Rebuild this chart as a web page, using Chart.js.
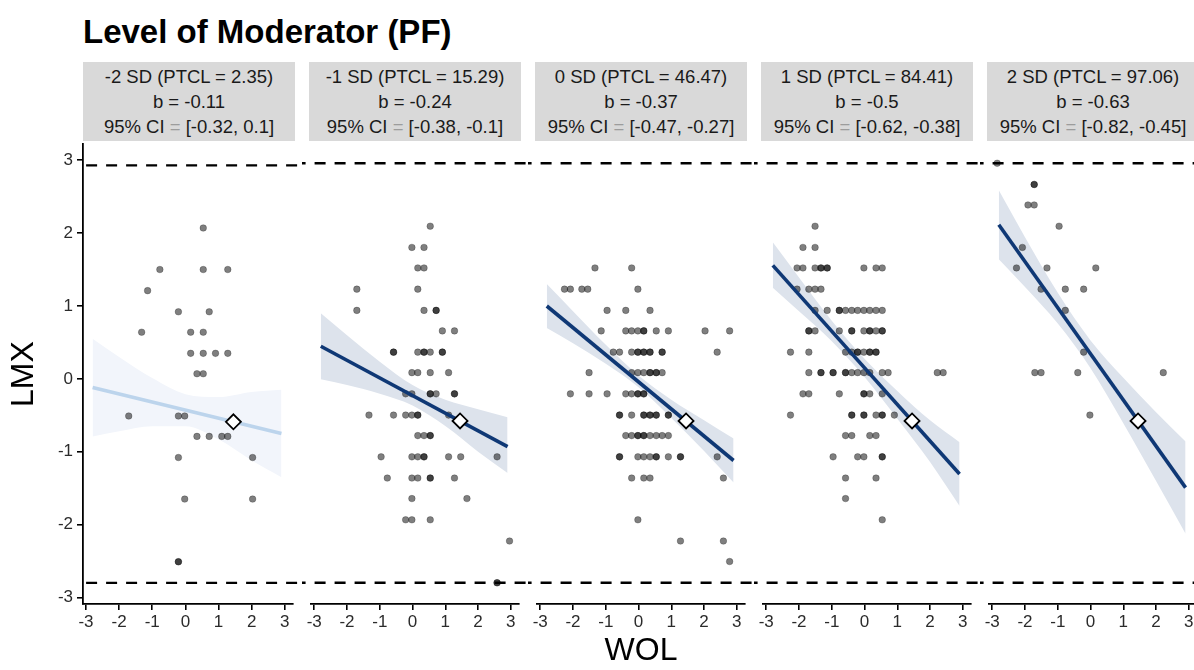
<!DOCTYPE html>
<html>
<head>
<meta charset="utf-8">
<script src="https://cdn.jsdelivr.net/npm/chart.js@4.4.0/dist/chart.umd.min.js"></script>
<style>
    body { margin: 0; background: #fff; overflow: hidden; }
    #wrap { position: relative; width: 1194px; height: 670px; overflow: hidden; font-family: 'Liberation Sans', Arial, sans-serif; }
    #title { position: absolute; left: 83px; top: 15px; font-size: 33px; line-height: 33px; font-weight: bold; color: #000; white-space: nowrap; }
    .strip { position: absolute; top: 62px; width: 212px; height: 79px; background: #d9d9d9; color: #1a1a1a; font-size: 18.5px; line-height: 25px; text-align: center; display: flex; flex-direction: column; justify-content: center; white-space: nowrap; }
    .strip .eq { color: #9c9c9c; }
    canvas { position: absolute; top: 130px; }
</style>
</head>
<body>
<div id="wrap">
    <div id="title">Level of Moderator (PF)</div>
</div>
<script>
// tick labels
const xTicks = [-3, -2, -1, 0, 1, 2, 3];
const yTicks = [-3, -2, -1, 0, 1, 2, 3];

// facet strips: moderator level, slope, confidence interval
const levelLabels = ["-2 SD (PTCL = 2.35)", "-1 SD (PTCL = 15.29)", "0 SD (PTCL = 46.47)", "1 SD (PTCL = 84.41)", "2 SD (PTCL = 97.06)"];
const slopeLabels = ["b = -0.11", "b = -0.24", "b = -0.37", "b = -0.5", "b = -0.63"];
const ciLabels = ["[-0.32, 0.1]", "[-0.38, -0.1]", "[-0.47, -0.27]", "[-0.62, -0.38]", "[-0.82, -0.45]"];

// dashed reference lines (min / max LMX) and the crossing point
const hLines = [2.93, -2.80];
const crossPoint = [1.45, -0.59];

// fitted lines (WOL range -> LMX)
const fitX = [-2.8, 2.9];
const fit1 = [-0.12, -0.75];
const fit2 = [0.43, -0.94];
const fit3 = [0.98, -1.13];
const fit4 = [1.535, -1.315];
const fit5 = [2.09, -1.50];

// confidence bands
const bandX = [-2.8, -2, -1, 0, 1, 2, 2.9];
const upper1 = [0.55, 0.30, 0.01, -0.21, -0.25, -0.18, -0.15];
const lower1 = [-0.79, -0.72, -0.65, -0.65, -0.83, -1.12, -1.35];
const upper2 = [0.88, 0.58, 0.22, -0.10, -0.30, -0.43, -0.54];
const lower2 = [-0.02, -0.10, -0.22, -0.38, -0.66, -1.01, -1.30];
const upper3 = [1.28, 0.91, 0.45, 0.03, -0.30, -0.58, -0.83];
const lower3 = [0.68, 0.47, 0.19, -0.13, -0.55, -1.00, -1.43];
const upper4 = [1.85, 1.37, 0.78, 0.26, -0.18, -0.58, -0.88];
const lower4 = [1.23, 0.91, 0.50, 0.01, -0.56, -1.15, -1.75];
const upper5 = [2.56, 1.92, 1.16, 0.51, 0.00, -0.47, -0.87];
const lower5 = [1.62, 1.24, 0.74, 0.13, -0.62, -1.41, -2.13];

// observations [WOL, LMX]
const pts1 = [[0.54,2.07],[-0.77,1.50],[0.54,1.50],[1.28,1.50],[-1.14,1.21],[-0.21,0.92],[0.72,0.92],[-1.32,0.64],[0.16,0.64],[0.54,0.64],
    [0.16,0.35],[0.54,0.35],[0.91,0.35],[1.28,0.35],[0.35,0.07],[0.54,0.07],[-1.71,-0.51],[-0.21,-0.51],[-0.02,-0.51],[0.35,-0.79],
    [0.72,-0.79],[1.10,-0.79],[1.28,-0.79],[-0.21,-1.08],[2.03,-1.08],[-0.02,-1.65],[2.03,-1.65],[-0.21,-2.51],[-0.21,-2.51]];
const pts2 = [[0.54,2.07],[-0.02,1.78],[0.35,1.78],[0.16,1.50],[0.35,1.50],[-1.70,1.21],[0.16,1.21],[-1.70,0.92],[0.35,0.92],[0.72,0.92],[0.72,0.92],
    [0.91,0.64],[1.28,0.64],[-0.58,0.35],[-0.58,0.35],[0.16,0.35],[0.35,0.35],[0.35,0.35],[0.54,0.35],[0.91,0.35],[0.91,0.35],
    [-0.02,0.07],[0.16,0.07],[0.54,0.07],[1.10,0.07],[-0.21,-0.22],[-0.02,-0.22],[0.54,-0.22],[0.54,-0.22],[0.72,-0.22],[1.28,-0.22],[1.28,-0.22],
    [-1.33,-0.51],[-0.58,-0.51],[-0.21,-0.51],[-0.02,-0.51],[0.16,-0.51],[0.16,-0.51],[1.10,-0.51],[0.16,-0.79],[0.35,-0.79],[0.54,-0.79],[0.54,-0.79],
    [-0.96,-1.08],[-0.02,-1.08],[0.16,-1.08],[0.35,-1.08],[0.35,-1.08],[1.10,-1.08],[1.47,-1.08],[2.58,-1.08],
    [-0.77,-1.37],[-0.02,-1.37],[0.16,-1.37],[0.54,-1.37],[0.54,-1.37],[1.28,-1.37],[-0.02,-1.65],[1.66,-1.65],
    [-0.21,-1.94],[-0.02,-1.94],[0.54,-1.94],[2.96,-2.23],[2.58,-2.80],[2.58,-2.80]];
const pts3 = [[-1.33,1.50],[-0.21,1.50],[-2.26,1.21],[-2.08,1.21],[-1.73,1.21],[-1.55,1.21],[-0.02,1.21],[-0.96,0.92],[-0.39,0.92],[0.35,0.92],
    [-1.14,0.64],[-0.39,0.64],[-0.21,0.64],[-0.02,0.64],[0.16,0.64],[0.16,0.64],[0.54,0.64],[0.91,0.64],[2.03,0.64],[2.78,0.64],
    [-0.77,0.35],[-0.58,0.35],[-0.21,0.35],[-0.02,0.35],[-0.02,0.35],[0.16,0.35],[0.16,0.35],[0.35,0.35],[0.35,0.35],[0.72,0.35],[0.72,0.35],[2.40,0.35],
    [-1.51,0.07],[-0.21,0.07],[-0.02,0.07],[0.16,0.07],[0.35,0.07],[0.35,0.07],[0.54,0.07],[0.54,0.07],[0.72,0.07],
    [-2.08,-0.22],[-1.51,-0.22],[-0.96,-0.22],[-0.39,-0.22],[-0.21,-0.22],[-0.02,-0.22],[-0.02,-0.22],[0.16,-0.22],[0.16,-0.22],
    [-0.58,-0.51],[-0.58,-0.51],[-0.21,-0.51],[0.16,-0.51],[0.16,-0.51],[0.35,-0.51],[0.35,-0.51],[0.54,-0.51],[0.54,-0.51],[0.91,-0.51],[0.91,-0.51],
    [-0.39,-0.79],[-0.21,-0.79],[-0.02,-0.79],[-0.02,-0.79],[0.16,-0.79],[0.16,-0.79],[0.35,-0.79],[0.54,-0.79],[0.72,-0.79],[0.91,-0.79],
    [-0.58,-1.08],[-0.58,-1.08],[-0.02,-1.08],[0.16,-1.08],[0.35,-1.08],[0.54,-1.08],[0.54,-1.08],[0.91,-1.08],[1.28,-1.08],[1.28,-1.08],[2.40,-1.08],
    [-0.21,-1.37],[0.16,-1.37],[0.35,-1.37],[2.59,-1.37],[-0.02,-1.94],[1.28,-2.23],[2.59,-2.23],[2.78,-2.51]];
const pts4 = [[-1.51,2.07],[-1.88,1.78],[-1.51,1.78],
    [-2.06,1.50],[-1.88,1.50],[-1.51,1.50],[-1.33,1.50],[-1.33,1.50],[-1.14,1.50],[-1.14,1.50],[-0.02,1.50],[0.35,1.50],[0.54,1.50],
    [-2.06,1.21],[-1.70,1.21],[-1.51,1.21],[-1.33,1.21],
    [-1.51,0.92],[-1.14,0.92],[-0.77,0.92],[-0.77,0.92],[-0.58,0.92],[-0.39,0.92],[-0.21,0.92],[-0.02,0.92],[0.16,0.92],[0.35,0.92],[0.54,0.92],
    [-1.70,0.64],[-1.70,0.64],[-1.51,0.64],[-0.77,0.64],[-0.39,0.64],[-0.39,0.64],[-0.02,0.64],[0.16,0.64],[0.16,0.64],[0.35,0.64],[0.54,0.64],[0.54,0.64],
    [-2.26,0.35],[-1.70,0.35],[-0.58,0.35],[-0.39,0.35],[-0.21,0.35],[-0.21,0.35],[-0.02,0.35],[0.16,0.35],[0.16,0.35],[0.35,0.35],[0.35,0.35],
    [-1.70,0.07],[-1.33,0.07],[-1.33,0.07],[-0.96,0.07],[-0.96,0.07],[-0.58,0.07],[-0.58,0.07],[-0.39,0.07],[-0.21,0.07],[-0.02,0.07],[0.16,0.07],[0.54,0.07],[0.72,0.07],[2.22,0.07],[2.40,0.07],
    [-1.88,-0.22],[-1.70,-0.22],[-0.77,-0.22],[-0.02,-0.22],[-0.02,-0.22],[0.16,-0.22],[0.54,-0.22],
    [-2.26,-0.51],[-0.39,-0.51],[-0.39,-0.51],[-0.02,-0.51],[-0.02,-0.51],[0.35,-0.51],[0.54,-0.51],[0.54,-0.51],[0.91,-0.51],
    [-0.58,-0.79],[-0.39,-0.79],[0.16,-0.79],[0.35,-0.79],[-0.96,-1.08],[-0.21,-1.08],[-0.02,-1.08],[0.54,-1.08],[0.54,-1.08],
    [-0.58,-1.37],[0.35,-1.37],[-0.58,-1.65],[0.54,-1.94]];
const pts5 = [[-2.85,2.93],[-1.72,2.64],[-1.72,2.64],[-1.91,2.36],[-1.72,2.36],[-0.96,2.07],[-2.08,1.78],[-2.26,1.50],[-1.33,1.50],[0.16,1.50],
    [-1.51,1.21],[-0.77,1.21],[-0.21,1.21],[-0.77,0.92],[-0.21,0.35],[-1.70,0.07],[-1.51,0.07],[-0.39,0.07],[2.22,0.07],[-0.02,-0.51]];

const panelPts = [pts1, pts2, pts3, pts4, pts5];
const panelFit = [fit1, fit2, fit3, fit4, fit5];
const panelUpper = [upper1, upper2, upper3, upper4, upper5];
const panelLower = [lower1, lower2, lower3, lower4, lower5];

const fontFamily = "'Liberation Sans', Arial, sans-serif";
const lineColors = ['#bcd4ec', '#0f3875', '#0f3875', '#0f3875', '#0f3875'];
const bandColors = ['#f2f5fb', '#dde3ec', '#dde3ec', '#dde3ec', '#dde3ec'];
const panelLeft = [83, 309, 535, 761, 987];
const panelWidth = 212;
const sidePad = 7;

function addStrip(i) {
    const strip = document.createElement('div');
    strip.className = 'strip';
    strip.style.left = panelLeft[i] + 'px';
    strip.innerHTML = '<div>' + levelLabels[i] + '</div><div>' + slopeLabels[i] + '</div>' +
        '<div>95% CI <span class="eq">=</span> ' + ciLabels[i] + '</div>';
    document.getElementById('wrap').appendChild(strip);
}

function axisStyle(tickList) {
    return {
        afterBuildTicks: scale => { scale.ticks = tickList.map(v => ({ value: v })); },
        ticks: { color: '#2b2b2b', font: { family: fontFamily, size: 17 }, maxRotation: 0, autoSkip: false, callback: v => String(v) },
        grid: { display: true, drawOnChartArea: false, drawTicks: true, tickLength: 6, color: '#000', lineWidth: 1.6 },
        border: { display: true, color: '#000', width: 1.8 }
    };
}

function makePanel(i) {
    const canvas = document.createElement('canvas');
    const first = i === 0;
    const width = first ? panelLeft[0] + panelWidth + sidePad : panelWidth + 2 * sidePad;
    canvas.width = width;
    canvas.height = 540;
    canvas.style.left = (first ? 0 : panelLeft[i] - sidePad) + 'px';
    document.getElementById('wrap').appendChild(canvas);

    const toXY = (xs, ys) => xs.map((x, k) => ({ x: x, y: ys[k] }));
    const dashed = v => ({
        type: 'line',
        data: [{ x: -3.6, y: v }, { x: 3.6, y: v }],
        borderColor: '#000', borderWidth: 2.4, borderDash: [11, 9],
        pointRadius: 0, fill: false,
        clip: { left: first ? 0 : false, right: false, top: false, bottom: false },
        order: 1
    });

    const xAxis = Object.assign(axisStyle(xTicks), {
        type: 'linear', min: -3.09, max: 3.24,
        afterFit: scale => { scale.height = 66; },
        title: { display: i === 2, text: 'WOL', color: '#000', font: { family: fontFamily, size: 32 }, padding: { top: 0, bottom: 0 } }
    });
    xAxis.ticks.padding = 2;

    const yAxis = Object.assign(axisStyle(yTicks), {
        type: 'linear', min: -3.09, max: 3.22, display: first,
        afterFit: scale => { scale.width = first ? panelLeft[0] : 0; },
        title: { display: true, text: 'LMX', color: '#000', font: { family: fontFamily, size: 32 }, padding: { top: 5, bottom: 0 } }
    });
    yAxis.ticks.padding = 4;

    new Chart(canvas, {
        type: 'scatter',
        data: {
            datasets: [
                {
                    type: 'line', data: toXY(bandX, panelUpper[i]), borderWidth: 0, pointRadius: 0,
                    fill: '+1', backgroundColor: bandColors[i], tension: 0.4, cubicInterpolationMode: 'monotone', order: 5
                },
                {
                    type: 'line', data: toXY(bandX, panelLower[i]), borderWidth: 0, pointRadius: 0,
                    fill: false, tension: 0.4, cubicInterpolationMode: 'monotone', order: 6
                },
                {
                    type: 'scatter', data: panelPts[i].map(p => ({ x: p[0], y: p[1] })),
                    pointRadius: 3.3, backgroundColor: 'rgba(0,0,0,0.5)', borderColor: 'rgba(0,0,0,0.3)', borderWidth: 0.8, order: 3
                },
                {
                    type: 'line', data: toXY(fitX, panelFit[i]), borderColor: lineColors[i], borderWidth: 3.6,
                    pointRadius: 0, fill: false, order: 2
                },
                dashed(hLines[0]),
                dashed(hLines[1]),
                {
                    type: 'scatter', data: [{ x: crossPoint[0], y: crossPoint[1] }], pointStyle: 'rectRot',
                    pointRadius: 7.5, backgroundColor: '#fff', borderColor: '#000', borderWidth: 1.8, order: 0
                }
            ]
        },
        options: {
            responsive: false,
            animation: false,
            devicePixelRatio: 1,
            layout: { padding: { top: 12, bottom: 0, left: first ? 0 : sidePad, right: sidePad } },
            plugins: { legend: { display: false }, tooltip: { enabled: false } },
            scales: { x: xAxis, y: yAxis }
        }
    });
}

document.addEventListener('DOMContentLoaded', function() {
    for (let i = 0; i < 5; i++) {
        addStrip(i);
        makePanel(i);
    }
});
</script>
</body>
</html>
